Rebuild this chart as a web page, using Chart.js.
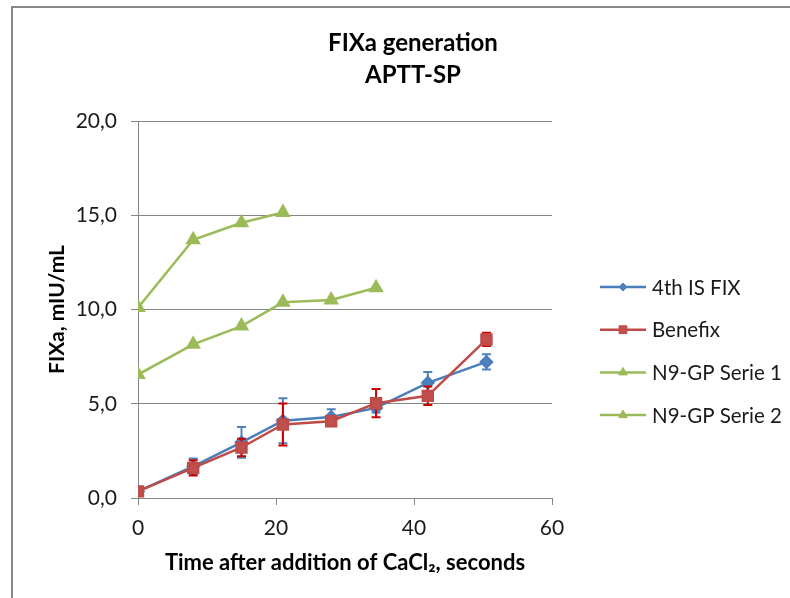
<!DOCTYPE html>
<html><head><meta charset="utf-8">
<script src="https://cdn.jsdelivr.net/npm/chart.js@4.4.1/dist/chart.umd.min.js"></script>
<style>
html,body{margin:0;padding:0;background:#fff;overflow:hidden;width:790px;height:598px;}
#frame{position:absolute;left:11px;top:6px;width:900px;height:700px;border-top:2px solid #878787;border-left:2px solid #878787;}
#wrap{position:absolute;left:13px;top:8px;width:800px;height:590px;}
</style></head><body>
<div id="frame"></div>
<div id="wrap"><canvas id="c"></canvas></div>
<script>
// ---- data ----
const times = [0, 8, 15, 21, 28, 34.5, 42, 50.5];
const seriesNames = ['4th IS FIX', 'Benefix', 'N9-GP Serie 1', 'N9-GP Serie 2'];
const fixValues = [0.35, 1.68, 2.95, 4.1, 4.3, 4.78, 6.11, 7.22];
const fixErrors = [0, 0.42, 0.82, 1.19, 0.41, 0.25, 0.58, 0.40];
const benefixValues = [0.35, 1.6, 2.68, 3.9, 4.07, 5.03, 5.42, 8.41];
const benefixErrors = [0, 0.4, 0.46, 1.11, 0, 0.75, 0.49, 0.35];
const serie1Times = [0, 8, 15, 21];
const serie1Values = [10.1, 13.7, 14.6, 15.15];
const serie2Times = [0, 8, 15, 21, 28, 34.5];
const serie2Values = [6.55, 8.15, 9.12, 10.38, 10.5, 11.15];
const titleLines = ['FIXa generation', 'APTT-SP'];
const xTitle = 'Time after addition of CaCl\u2082, seconds';
const yTitle = 'FIXa, mIU/mL';

const pts = (xs, ys) => xs.map((x, i) => ({x: x, y: ys[i]}));

Chart.defaults.font.family = 'Lato';
Chart.defaults.color = '#1a1a1a';

const errorBars = {
  id: 'errorBars',
  beforeDatasetDraw(chart, args) {
    const ds = chart.data.datasets[args.index];
    if (!ds.errors) return;
    const meta = chart.getDatasetMeta(args.index);
    const ys = chart.scales.y;
    const ctx = chart.ctx;
    ctx.save();
    ctx.strokeStyle = ds.errorColor;
    ctx.lineWidth = 2;
    meta.data.forEach((p, i) => {
      const e = ds.errors[i];
      if (!e) return;
      const v = ds.data[i].y;
      const y1 = ys.getPixelForValue(v + e), y2 = ys.getPixelForValue(v - e);
      ctx.beginPath();
      ctx.moveTo(p.x, y1); ctx.lineTo(p.x, y2);
      ctx.moveTo(p.x - 4.5, y1); ctx.lineTo(p.x + 4.5, y1);
      ctx.moveTo(p.x - 4.5, y2); ctx.lineTo(p.x + 4.5, y2);
      ctx.stroke();
    });
    ctx.restore();
  }
};

const excelLegend = {
  id: 'excelLegend',
  afterDraw(chart, args, o) {
    const ctx = chart.ctx;
    ctx.save();
    chart.data.datasets.forEach((ds, i) => {
      const y = o.top + i * o.spacing;
      ctx.strokeStyle = ds.borderColor;
      ctx.lineWidth = ds.borderWidth;
      ctx.beginPath();
      ctx.moveTo(o.x, y); ctx.lineTo(o.x + o.lineLength, y);
      ctx.stroke();
      ctx.fillStyle = ds.pointBackgroundColor;
      ctx.strokeStyle = ds.pointBorderColor;
      ctx.lineWidth = 1;
      Chart.helpers.drawPoint(ctx, {pointStyle: ds.pointStyle, radius: ds.legendRadius, borderWidth: 1}, o.x + o.lineLength / 2, y);
      ctx.fillStyle = '#1a1a1a';
      ctx.font = o.font;
      ctx.textBaseline = 'middle';
      ctx.textAlign = 'left';
      ctx.fillText(ds.label, o.x + o.lineLength + o.gap, y + 1);
    });
    ctx.restore();
  }
};

new Chart(document.getElementById('c'), {
  type: 'line',
  data: {
    datasets: [
      {label: seriesNames[0], data: pts(times, fixValues), errors: fixErrors, errorColor: '#4F81BD',
       borderColor: '#4A7EBB', borderWidth: 2.5, pointStyle: 'rectRot', pointRadius: 5.5, legendRadius: 4,
       pointBackgroundColor: '#4F81BD', pointBorderColor: '#4A7EBB', order: 3},
      {label: seriesNames[1], data: pts(times, benefixValues), errors: benefixErrors, errorColor: '#CC0000',
       borderColor: '#BE4B48', borderWidth: 2.5, pointStyle: 'rect', pointRadius: 7, legendRadius: 5.5,
       pointBackgroundColor: '#C0504D', pointBorderColor: '#BE4B48', order: 2},
      {label: seriesNames[2], data: pts(serie1Times, serie1Values),
       borderColor: '#9BBB59', borderWidth: 2.5, pointStyle: 'triangle', pointRadius: 6.5, legendRadius: 5,
       pointBackgroundColor: '#9BBB59', pointBorderColor: '#9BBB59', order: 1},
      {label: seriesNames[3], data: pts(serie2Times, serie2Values),
       borderColor: '#9BBB59', borderWidth: 2.5, pointStyle: 'triangle', pointRadius: 6.5, legendRadius: 5,
       pointBackgroundColor: '#9BBB59', pointBorderColor: '#9BBB59', order: 0}
    ]
  },
  options: {
    responsive: true,
    maintainAspectRatio: false,
    animation: false,
    devicePixelRatio: 1,
    layout: {padding: {left: 0, right: 0, top: 0, bottom: 0}},
    elements: {line: {tension: 0}, point: {hoverRadius: 6}},
    plugins: {
      legend: {display: false},
      tooltip: {enabled: false},
      title: {display: true, text: titleLines, color: '#000',
        font: {size: 24, weight: 'bold', lineHeight: '32px'}, padding: {top: 19, bottom: 30}},
      excelLegend: {x: 587, top: 279, spacing: 42.7, lineLength: 46, gap: 6, font: '20.5px Lato'}
    },
    scales: {
      x: {type: 'linear', min: 0, max: 60,
        ticks: {stepSize: 20, padding: 11, font: {size: 21}, color: '#1a1a1a'},
        grid: {drawOnChartArea: false, drawTicks: true, tickLength: 7, color: '#868686'},
        border: {color: '#868686', width: 1},
        title: {display: true, text: xTitle, color: '#000', font: {size: 22, weight: 'bold', lineHeight: '24px'}, padding: {top: 0, bottom: 23}},
        afterFit(s) { s.height = 100; }
      },
      y: {min: 0, max: 20,
        ticks: {stepSize: 5, padding: 14, font: {size: 21}, color: '#1a1a1a',
          callback: v => v.toFixed(1).replace('.', ',')},
        grid: {tickLength: 7, color: '#868686'},
        border: {color: '#868686', width: 1},
        title: {display: true, text: yTitle, color: '#000', font: {size: 21, weight: 'bold', lineHeight: '24px'}, padding: {top: 32, bottom: 32}},
        afterFit(s) { s.width = 125; }
      },
      spacer: {type: 'linear', position: 'right', display: true,
        ticks: {display: false}, grid: {display: false, drawTicks: false}, border: {display: false},
        afterFit(s) { s.width = 261; }
      }
    }
  },
  plugins: [errorBars, excelLegend]
});
</script>
</body></html>
